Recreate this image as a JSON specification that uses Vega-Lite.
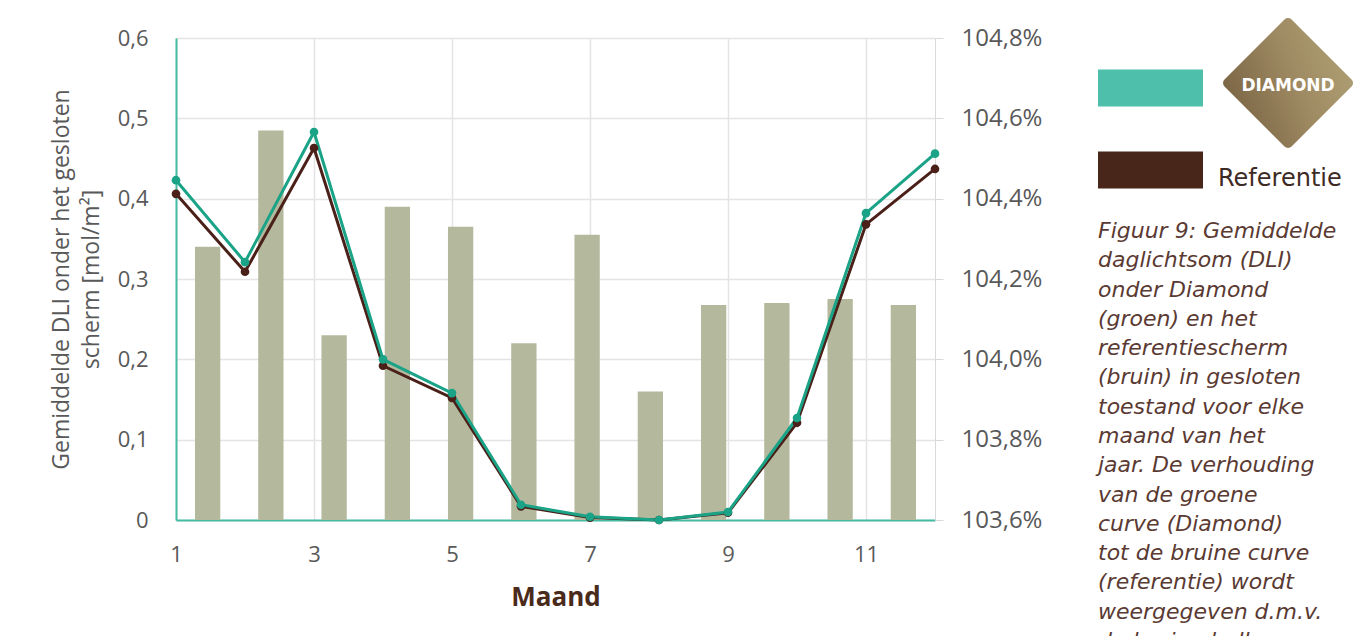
{
  "$schema": "https://vega.github.io/schema/vega-lite/v6.json",
  "padding": {"left": 50, "top": 17, "right": 0, "bottom": 0},
  "background": "#ffffff",
  "datasets": {
    "verhouding": [
      {"maand": 1, "verhouding": 104.28},
      {"maand": 2, "verhouding": 104.57},
      {"maand": 3, "verhouding": 104.06},
      {"maand": 4, "verhouding": 104.38},
      {"maand": 5, "verhouding": 104.33},
      {"maand": 6, "verhouding": 104.04},
      {"maand": 7, "verhouding": 104.31},
      {"maand": 8, "verhouding": 103.92},
      {"maand": 9, "verhouding": 104.135},
      {"maand": 10, "verhouding": 104.14},
      {"maand": 11, "verhouding": 104.15},
      {"maand": 12, "verhouding": 104.135}
    ],
    "dli": [
      {"maand": 1, "serie": "Referentie", "dli": 0.406},
      {"maand": 2, "serie": "Referentie", "dli": 0.309},
      {"maand": 3, "serie": "Referentie", "dli": 0.463},
      {"maand": 4, "serie": "Referentie", "dli": 0.192},
      {"maand": 5, "serie": "Referentie", "dli": 0.152},
      {"maand": 6, "serie": "Referentie", "dli": 0.017},
      {"maand": 7, "serie": "Referentie", "dli": 0.003},
      {"maand": 8, "serie": "Referentie", "dli": 0.0},
      {"maand": 9, "serie": "Referentie", "dli": 0.009},
      {"maand": 10, "serie": "Referentie", "dli": 0.121},
      {"maand": 11, "serie": "Referentie", "dli": 0.368},
      {"maand": 12, "serie": "Referentie", "dli": 0.437},
      {"maand": 1, "serie": "Diamond", "dli": 0.423},
      {"maand": 2, "serie": "Diamond", "dli": 0.321},
      {"maand": 3, "serie": "Diamond", "dli": 0.483},
      {"maand": 4, "serie": "Diamond", "dli": 0.2},
      {"maand": 5, "serie": "Diamond", "dli": 0.158},
      {"maand": 6, "serie": "Diamond", "dli": 0.019},
      {"maand": 7, "serie": "Diamond", "dli": 0.004},
      {"maand": 8, "serie": "Diamond", "dli": 0.0},
      {"maand": 9, "serie": "Diamond", "dli": 0.01},
      {"maand": 10, "serie": "Diamond", "dli": 0.127},
      {"maand": 11, "serie": "Diamond", "dli": 0.382},
      {"maand": 12, "serie": "Diamond", "dli": 0.456}
    ],
    "legenda": [
      {"serie": "Diamond", "kolom": "vlak"},
      {"serie": "Referentie", "kolom": "vlak"},
      {"serie": "Diamond", "kolom": "tekst", "label": "DIAMOND"},
      {"serie": "Referentie", "kolom": "tekst", "label": "Referentie"}
    ],
    "bijschrift": [
      {"regel": 1, "kolom": "tekst", "tekst": "Figuur 9: Gemiddelde"},
      {"regel": 2, "kolom": "tekst", "tekst": "daglichtsom (DLI)"},
      {"regel": 3, "kolom": "tekst", "tekst": "onder Diamond"},
      {"regel": 4, "kolom": "tekst", "tekst": "(groen) en het"},
      {"regel": 5, "kolom": "tekst", "tekst": "referentiescherm"},
      {"regel": 6, "kolom": "tekst", "tekst": "(bruin) in gesloten"},
      {"regel": 7, "kolom": "tekst", "tekst": "toestand voor elke"},
      {"regel": 8, "kolom": "tekst", "tekst": "maand van het"},
      {"regel": 9, "kolom": "tekst", "tekst": "jaar. De verhouding"},
      {"regel": 10, "kolom": "tekst", "tekst": "van de groene"},
      {"regel": 11, "kolom": "tekst", "tekst": "curve (Diamond)"},
      {"regel": 12, "kolom": "tekst", "tekst": "tot de bruine curve"},
      {"regel": 13, "kolom": "tekst", "tekst": "(referentie) wordt"},
      {"regel": 14, "kolom": "tekst", "tekst": "weergegeven d.m.v."},
      {"regel": 15, "kolom": "tekst", "tekst": "de bruine balken"}
    ]
  },
  "hconcat": [
    {
      "width": 759,
      "height": 482,
      "layer": [
        {
          "data": {"name": "verhouding"},
          "mark": {"type": "bar", "color": "#b4b89c"},
          "encoding": {
            "x": {
              "field": "maand",
              "type": "ordinal",
              "scale": {"paddingInner": 0.6, "paddingOuter": 0.3},
              "axis": null
            },
            "y": {
              "field": "verhouding",
              "type": "quantitative",
              "scale": {"domain": [103.6, 104.8], "zero": false, "nice": false},
              "axis": {
                "orient": "right",
                "title": null,
                "values": [103.6, 103.8, 104.0, 104.2, 104.4, 104.6, 104.8],
                "labelExpr": "replace(format(datum.value, '.1f'), '.', ',') + '%'",
                "grid": false,
                "domain": true,
                "domainColor": "#d9d9d9",
                "ticks": true,
                "tickSize": 8,
                "tickColor": "#d9d9d9",
                "labelPadding": 18,
                "labelFontSize": 24
              }
            },
            "y2": {"datum": 103.6}
          }
        },
        {
          "data": {"name": "dli"},
          "encoding": {
            "x": {
              "field": "maand",
              "type": "quantitative",
              "scale": {"domain": [1, 12], "nice": false, "zero": false},
              "axis": {
                "title": "Maand",
                "values": [1, 3, 5, 7, 9, 11],
                "grid": true,
                "ticks": false,
                "labelFlush": false,
                "domainColor": "#45bba3",
                "domainWidth": 2,
                "labelPadding": 24,
                "labelFontSize": 22,
                "titleFontSize": 26,
                "titleFontWeight": "bold",
                "titleColor": "#4a2a1a",
                "titlePadding": 19
              }
            },
            "y": {
              "field": "dli",
              "type": "quantitative",
              "scale": {"domain": [0, 0.6], "nice": false},
              "axis": {
                "title": ["Gemiddelde DLI onder het gesloten", "scherm [mol/m²]"],
                "values": [0, 0.1, 0.2, 0.3, 0.4, 0.5, 0.6],
                "labelExpr": "datum.value == 0 ? '0' : replace(format(datum.value, '.1f'), '.', ',')",
                "grid": true,
                "ticks": false,
                "labelFlush": false,
                "domainColor": "#45bba3",
                "domainWidth": 2,
                "labelPadding": 28,
                "labelFontSize": 22,
                "titleFontSize": 23,
                "titleFontWeight": "normal",
                "titleLineHeight": 30,
                "titlePadding": 14
              }
            },
            "color": {
              "field": "serie",
              "type": "nominal",
              "scale": {"domain": ["Referentie", "Diamond"], "range": ["#4a2019", "#1aa386"]},
              "legend": null
            }
          },
          "layer": [
            {"mark": {"type": "line", "strokeWidth": 3}},
            {"mark": {"type": "point", "filled": true, "opacity": 1, "size": 75}}
          ]
        }
      ],
      "resolve": {"scale": {"x": "independent", "y": "independent"}}
    },
    {
      "spacing": 0,
      "vconcat": [
        {
          "width": 225,
          "height": 182,
          "data": {"name": "legenda"},
          "encoding": {
            "x": {
              "field": "kolom",
              "type": "nominal",
              "scale": {"domain": ["vlak", "tekst"], "paddingInner": 0.125, "paddingOuter": 0},
              "axis": null
            },
            "y": {
              "field": "serie",
              "type": "nominal",
              "scale": {"domain": ["Diamond", "Referentie"], "paddingInner": 0.549, "paddingOuter": 0.384},
              "axis": null
            }
          },
          "layer": [
            {
              "transform": [{"filter": "datum.kolom == 'vlak'"}],
              "mark": {"type": "rect"},
              "encoding": {
                "fill": {
                  "field": "serie",
                  "type": "nominal",
                  "scale": {"domain": ["Diamond", "Referentie"], "range": ["#4dbfaa", "#48261a"]},
                  "legend": null
                }
              }
            },
            {
              "transform": [{"filter": "datum.kolom == 'tekst' && datum.serie == 'Diamond'"}],
              "mark": {
                "type": "point",
                "shape": "diamond",
                "size": 14400,
                "filled": true,
                "opacity": 1,
                "strokeWidth": 10,
                "strokeJoin": "round",
                "fill": {
                  "gradient": "linear",
                  "x1": 0, "y1": 0.7, "x2": 1, "y2": 0.3,
                  "stops": [
                    {"offset": 0, "color": "#7b6545"},
                    {"offset": 0.6, "color": "#a08c64"},
                    {"offset": 1, "color": "#ad9d73"}
                  ]
                },
                "stroke": {
                  "gradient": "linear",
                  "x1": 0, "y1": 0.7, "x2": 1, "y2": 0.3,
                  "stops": [
                    {"offset": 0, "color": "#7b6545"},
                    {"offset": 0.6, "color": "#a08c64"},
                    {"offset": 1, "color": "#ad9d73"}
                  ]
                }
              },
              "encoding": {
                "x": {"field": "kolom", "type": "nominal", "bandPosition": 0.667},
                "y": {"field": "serie", "type": "nominal", "bandPosition": 0.365}
              }
            },
            {
              "transform": [{"filter": "datum.kolom == 'tekst' && datum.serie == 'Diamond'"}],
              "mark": {
                "type": "text",
                "font": "DejaVu Sans",
                "fontWeight": "bold",
                "fontSize": 17,
                "color": "#ffffff",
                "align": "center",
                "baseline": "middle"
              },
              "encoding": {
                "x": {"field": "kolom", "type": "nominal", "bandPosition": 0.667},
                "y": {"field": "serie", "type": "nominal", "bandPosition": 0.45},
                "text": {"field": "label"}
              }
            },
            {
              "transform": [{"filter": "datum.kolom == 'tekst' && datum.serie == 'Referentie'"}],
              "mark": {
                "type": "text",
                "font": "DejaVu Sans",
                "fontSize": 24,
                "color": "#3e2a24",
                "align": "left",
                "baseline": "middle"
              },
              "encoding": {
                "x": {"field": "kolom", "type": "nominal", "bandPosition": 0},
                "y": {"field": "serie", "type": "nominal", "bandPosition": 0.75},
                "text": {"field": "label"}
              }
            }
          ]
        },
        {
          "width": 258,
          "height": 410,
          "data": {"name": "bijschrift"},
          "mark": {
            "type": "text",
            "font": "DejaVu Sans",
            "fontStyle": "italic",
            "fontSize": 22,
            "color": "#5a3a32",
            "align": "left",
            "baseline": "alphabetic"
          },
          "encoding": {
            "x": {
              "field": "kolom",
              "type": "nominal",
              "scale": {"type": "point", "padding": 0, "align": 0},
              "axis": null
            },
            "y": {
              "field": "regel",
              "type": "ordinal",
              "scale": {"type": "point", "padding": 0},
              "axis": null
            },
            "text": {"field": "tekst"}
          }
        }
      ]
    }
  ],
  "spacing": 56,
  "resolve": {"scale": {"color": "independent", "fill": "independent"}},
  "config": {
    "view": {"stroke": null},
    "axis": {
      "labelFont": "Open Sans",
      "titleFont": "Open Sans",
      "labelColor": "#595959",
      "titleColor": "#595959",
      "gridColor": "#e4e4e4",
      "gridWidth": 1.5
    }
  }
}
